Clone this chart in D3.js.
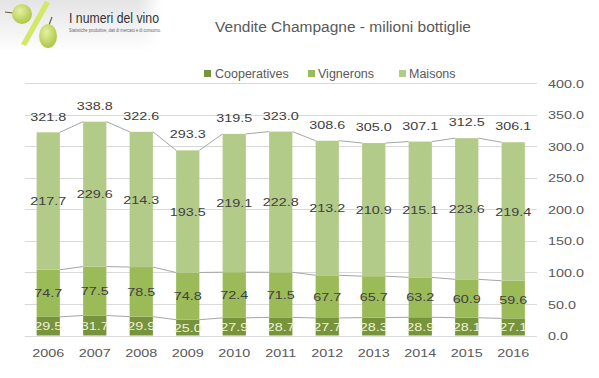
<!DOCTYPE html>
<html><head><meta charset="utf-8">
<script src="https://cdn.jsdelivr.net/npm/d3@7"></script>
<style>
html,body{margin:0;padding:0;background:#fff;}
svg{display:block;}
</style></head>
<body>
<svg id="chart" width="599" height="378"></svg>
<script>
// ---- data ----
const years = ["2006","2007","2008","2009","2010","2011","2012","2013","2014","2015","2016"];
const cooperatives = [29.5, 31.7, 29.9, 25.0, 27.9, 28.7, 27.7, 28.3, 28.9, 28.1, 27.1];
const vignerons    = [74.7, 77.5, 78.5, 74.8, 72.4, 71.5, 67.7, 65.7, 63.2, 60.9, 59.6];
const maisons      = [217.7, 229.6, 214.3, 193.5, 219.1, 222.8, 213.2, 210.9, 215.1, 223.6, 219.4];
const totals       = [321.8, 338.8, 322.6, 293.3, 319.5, 323.0, 308.6, 305.0, 307.1, 312.5, 306.1];
const seriesNames  = ["Cooperatives", "Vignerons", "Maisons"];
const yTicks       = [0, 50, 100, 150, 200, 250, 300, 350, 400];
const titleText    = "Vendite Champagne - milioni bottiglie";

const colors = {Cooperatives: "#77933C", Vignerons: "#9BBB59", Maisons: "#B3CB89"};
const labelColors = {Cooperatives: "#EEF2D6", Vignerons: "#404040", Maisons: "#404040"};
const NUM_FONT = "'Liberation Sans', Arial, sans-serif";
const SX = 1.25;

const svg = d3.select("#chart");

// ---- logo ----
const defs = svg.append("defs");
const lg = defs.append("linearGradient").attr("id","logoBg").attr("x1",0).attr("y1",0).attr("x2",0).attr("y2",1);
lg.append("stop").attr("offset","0%").attr("stop-color","#e4e4e4");
lg.append("stop").attr("offset","100%").attr("stop-color","#ffffff");
const lgx = defs.append("linearGradient").attr("id","logoFade").attr("x1",0).attr("y1",0).attr("x2",1).attr("y2",0);
lgx.append("stop").attr("offset","85%").attr("stop-color","#fff").attr("stop-opacity",0);
lgx.append("stop").attr("offset","100%").attr("stop-color","#fff").attr("stop-opacity",1);
const gr = defs.append("radialGradient").attr("id","grape").attr("cx","40%").attr("cy","35%").attr("r","70%");
gr.append("stop").attr("offset","0%").attr("stop-color","#e6f0a0");
gr.append("stop").attr("offset","100%").attr("stop-color","#a9c443");
const logo = svg.append("g");
logo.append("rect").attr("x",0).attr("y",0).attr("width",162).attr("height",52).attr("fill","url(#logoBg)");
logo.append("rect").attr("x",0).attr("y",0).attr("width",162).attr("height",52).attr("fill","url(#logoFade)");
logo.append("path").attr("d","M5,12 L13,13").attr("stroke","#6b5a3a").attr("stroke-width",1.2);
logo.append("ellipse").attr("cx",22).attr("cy",14).attr("rx",10).attr("ry",10).attr("fill","url(#grape)");
logo.append("path").attr("d","M21,44 L26,46 L50,3 L45,1 Z").attr("fill","#d4e766");
logo.append("path").attr("d","M49,25 L52,17").attr("stroke","#6b5a3a").attr("stroke-width",1.2);
logo.append("ellipse").attr("cx",48).attr("cy",36).attr("rx",9).attr("ry",12).attr("fill","url(#grape)");
logo.append("text").attr("x",69).attr("y",23).attr("font-family","'Liberation Sans Narrow','Liberation Sans',Arial,sans-serif")
  .attr("font-size",15).attr("fill","#333").attr("textLength",90).attr("lengthAdjust","spacingAndGlyphs").text("I numeri del vino");
logo.append("text").attr("x",69).attr("y",32).attr("font-family","'Liberation Sans',Arial,sans-serif")
  .attr("font-size",4.5).attr("fill","#666").attr("textLength",92).attr("lengthAdjust","spacingAndGlyphs")
  .text("Statistiche produttive, dati di mercato e di consumo.");

// ---- title ----
svg.append("text").attr("x",343).attr("y",32).attr("text-anchor","middle")
  .attr("font-family","'Liberation Sans', Arial, sans-serif").attr("font-size",15.5).attr("fill","#595959")
  .text(titleText);

// ---- scales ----
const x = d3.scaleBand().domain(years).range([25, 536.5]).paddingInner(0.5).paddingOuter(0.25);
const y = d3.scaleLinear().domain([0, 400]).range([335.5, 83]);

// gridlines
svg.append("g").selectAll("line").data(yTicks).join("line")
  .attr("x1",25).attr("x2",537).attr("y1",d=>Math.round(y(d))+0.5).attr("y2",d=>Math.round(y(d))+0.5)
  .attr("stroke","#d9d9d9").attr("stroke-width",1);

// ---- stack ----
const table = years.map((yr,i)=>({year:yr, Cooperatives:cooperatives[i], Vignerons:vignerons[i], Maisons:maisons[i]}));
const stacked = d3.stack().keys(seriesNames)(table);

// series lines
const bw = x.bandwidth();
stacked.forEach(s=>{
  const segs = [];
  for(let i=0;i<s.length-1;i++){
    segs.push({x1:x(years[i])+bw, y1:y(s[i][1]), x2:x(years[i+1]), y2:y(s[i+1][1])});
  }
  svg.append("g").selectAll("line").data(segs).join("line")
    .attr("x1",d=>d.x1).attr("y1",d=>d.y1).attr("x2",d=>d.x2).attr("y2",d=>d.y2)
    .attr("stroke","#a6a6a6").attr("stroke-width",1);
});

// bars
stacked.forEach(s=>{
  svg.append("g").selectAll("rect").data(s).join("rect")
    .attr("x",d=>x(d.data.year)).attr("width",bw)
    .attr("y",d=>y(d[1])).attr("height",d=>y(d[0])-y(d[1]))
    .attr("fill",colors[s.key]);
});

function numText(g, xp, yp, txt, color, anchor){
  g.append("text").attr("transform",`translate(${xp},${yp}) scale(${SX},1)`)
    .attr("text-anchor",anchor||"middle").attr("dy","0.36em")
    .attr("font-family",NUM_FONT).attr("font-size",11.5).attr("fill",color).text(txt);
}

// segment labels
const lblG = svg.append("g");
stacked.forEach(s=>{
  s.forEach(d=>{
    const v = d[1]-d[0];
    numText(lblG, x(d.data.year)+bw/2, (y(d[0])+y(d[1]))/2, v.toFixed(1), labelColors[s.key]);
  });
});
// total labels
totals.forEach((t,i)=>{
  numText(lblG, x(years[i])+bw/2, y(t)-16, t.toFixed(1), "#404040");
});

// ---- axes ----
const yAxis = svg.append("g").attr("transform","translate(536,0)")
  .call(d3.axisRight(y).tickValues(yTicks).tickSize(0).tickFormat(d3.format(".1f")));
yAxis.select(".domain").remove();
yAxis.selectAll("text").attr("x",0).attr("dy","0.36em")
  .attr("transform",`translate(12,0) scale(${SX},1)`)
  .attr("font-family",NUM_FONT).attr("font-size",11.5).attr("fill","#595959");

const xAxis = svg.append("g").attr("transform","translate(0,335.5)")
  .call(d3.axisBottom(x).tickSize(0).tickPadding(0));
xAxis.select(".domain").remove();
xAxis.selectAll("text").attr("y",0).attr("dy",0)
  .attr("transform",`translate(0,21.5) scale(${SX},1)`)
  .attr("font-family",NUM_FONT).attr("font-size",11.5).attr("fill","#595959");

// ---- legend ----
const legendPos = [{sq:204, tx:215}, {sq:308, tx:318}, {sq:399, tx:409}];
const leg = svg.append("g");
seriesNames.forEach((n,i)=>{
  leg.append("rect").attr("x",legendPos[i].sq).attr("y",70).attr("width",7).attr("height",7).attr("fill",colors[n]);
  leg.append("text").attr("x",legendPos[i].tx).attr("y",73.5).attr("dy","0.35em")
    .attr("font-family","'Liberation Sans', Arial, sans-serif").attr("font-size",12.5).attr("fill","#595959").text(n);
});
</script>
</body></html>
